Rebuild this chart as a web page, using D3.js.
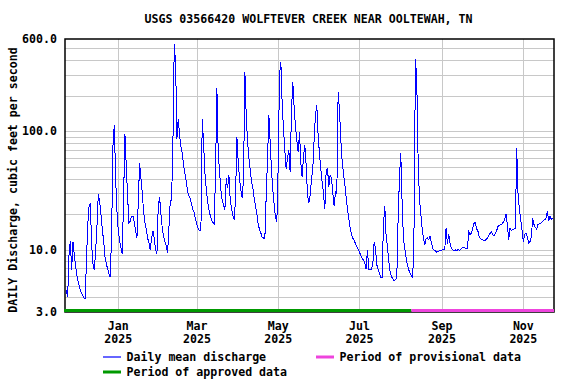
<!DOCTYPE html>
<html>
<head>
<meta charset="UTF-8">
<title>USGS 03566420 Wolftever Creek near Ooltewah, TN</title>
<script src="https://d3js.org/d3.v7.min.js"></script>
<style>
  body { margin: 0; background: #fff; }
  text { font-family: "DejaVu Sans Mono", monospace; font-weight: bold; font-size: 11.6px; fill: #000; }
</style>
</head>
<body>
<div id="chart"></div>
<script>
// daily mean discharge (cfs), one value per day
const nov2024 = [4.6, 4.0, 9.0, 12, 6.8, 11.7, 9.0, 7.2]; // from Nov 23
const dec2024 = [6.0, 5.3, 4.8, 4.4, 4.2, 4.0, 3.85, 7.2, 16, 23, 25, 11, 7.6, 6.8, 9.8, 16,
  29.5, 25.8, 20, 14.8, 12, 8.7, 7.7, 6.9, 6.3, 5.9, 14, 75, 114, 40, 21];
const jan2025 = [14.4, 12, 10.5, 9.2, 29, 94, 50, 28, 17, 17.5, 19.3, 19.3, 17, 14.5, 12.6, 25.8,
  54, 40, 30, 21, 17, 14.8, 12.6, 11.5, 10, 12.6, 14.5, 12.6, 10, 9.2, 24];
const feb2025 = [27.8, 20, 15.3, 13, 11.8, 10.8, 9.4, 15.3, 25.6, 26.5, 80, 540, 380, 87, 128, 93,
  74, 65, 52, 44, 38, 31, 28.5, 27, 24, 21.9, 20.5, 18];
const mar2025 = [16.4, 15, 14.5, 14.5, 126, 79, 45, 33, 25.6, 22, 19.5, 17.8, 17, 16.6, 46, 230,
  65, 46, 32, 26, 24, 21.9, 40, 33, 43, 26.5, 22.5, 19.5, 18, 27.4, 90];
const apr2025 = [55, 40, 32, 27.4, 40, 318, 137, 82, 60, 47, 38, 33, 27, 23.3, 20, 16.5, 14.8,
  13.9, 12.8, 12.6, 12.6, 28.5, 59, 137, 80, 46, 32, 24, 18.6, 17.4];
const may2025 = [52, 300, 385, 170, 105, 68, 48, 60, 69, 45, 156, 259, 156, 109, 84, 67, 98, 54,
  41, 61, 76, 52, 29, 24.7, 29, 39, 49, 87, 137, 165, 90];
const jun2025 = [65, 48, 37, 30, 22, 46, 49, 34, 43, 40, 30, 23.3, 31, 30, 215, 150, 85, 56, 44,
  36, 28, 22, 18.5, 15.5, 13.5, 12.6, 12, 11.3, 10.6, 10.2];
const jul2025 = [9.6, 9.0, 8.5, 8.2, 7.8, 6.9, 10, 6.9, 6.9, 6.9, 7.5, 11.7, 10.5, 7.5, 6.9, 6.3,
  5.9, 5.9, 16.3, 23.5, 13, 10.7, 8.0, 6.6, 6.0, 5.7, 5.5, 5.6, 5.8, 18, 40];
const aug2025 = [66, 25, 12.5, 10.4, 8.6, 7.4, 6.8, 6.4, 6.1, 5.8, 16.4, 410, 270, 60, 27.4, 20.5,
  15.5, 12.6, 11, 12.4, 12.6, 12.2, 13.2, 11.5, 10.3, 10, 9.8, 9.6, 9.7, 9.9, 9.8];
const sep2025 = [10, 10, 10, 15.3, 11.3, 13.6, 11.3, 10.3, 10, 9.9, 10, 9.9, 10.1, 9.9, 10.1, 10.4,
  10.4, 10.4, 10.3, 10.3, 14.2, 13.5, 13.8, 15.2, 16.8, 17, 15, 14.3, 12.8, 12.4];
const oct2025 = [12.2, 12.1, 12, 12.2, 12.6, 13.2, 13.8, 14.2, 13.5, 13.2, 13.8, 14.6, 15.8, 16.2,
  16.3, 16.5, 17.2, 18, 20, 16.4, 12.2, 15.3, 14.6, 14.8, 15, 15.3, 72, 30, 22, 18, 14.6];
const nov2025 = [11.8, 13.5, 13.9, 12.8, 11.5, 11.8, 12.8, 18.6, 16.4, 15.5, 15, 16.4, 16.6, 16.8,
  17.2, 17.6, 18, 18.5, 21.2, 17.6, 19.2, 18.2, 18.4];

const monthStarts = ["2024-11-23", "2024-12-01", "2025-01-01", "2025-02-01", "2025-03-01", "2025-04-01",
  "2025-05-01", "2025-06-01", "2025-07-01", "2025-08-01", "2025-09-01", "2025-10-01", "2025-11-01"];
const monthValues = [nov2024, dec2024, jan2025, feb2025, mar2025, apr2025, may2025, jun2025,
  jul2025, aug2025, sep2025, oct2025, nov2025];

const xDomain = ["2024-11-22", "2025-11-24"];
const approvedEnd = "2025-08-09";
const xTicks = ["2025-01-01", "2025-03-01", "2025-05-01", "2025-07-01", "2025-09-01", "2025-11-01"];
const yLabels = [3, 10, 100, 600];
const yGrid = [4, 5, 6, 7, 8, 9, 10, 20, 30, 40, 50, 60, 70, 80, 90, 100, 200, 300, 400, 500];

const title = "USGS 03566420 WOLFTEVER CREEK NEAR OOLTEWAH, TN";
const yTitle = "DAILY Discharge, cubic feet per second";

const parse = d3.utcParse("%Y-%m-%d");
const data = [];
monthValues.forEach((vals, m) => {
  const start = parse(monthStarts[m]);
  vals.forEach((v, i) => data.push({ date: d3.utcDay.offset(start, i), cfs: v }));
});

const W = 576, H = 384;
const plot = { left: 65, right: 554, top: 39, bottom: 312 };

const svg = d3.select("#chart").append("svg")
  .attr("width", W).attr("height", H);

const x = d3.scaleUtc()
  .domain(xDomain.map(parse))
  .range([plot.left, plot.right]);

const y = d3.scaleLog()
  .domain([3, 600])
  .range([plot.bottom, plot.top]);

const crisp = v => Math.round(v) + 0.5;

// grid
svg.append("g").selectAll("line.h")
  .data(yGrid).enter().append("line")
  .attr("x1", plot.left).attr("x2", plot.right)
  .attr("y1", d => crisp(y(d))).attr("y2", d => crisp(y(d)))
  .attr("stroke", "#c8c8c8").attr("stroke-width", 1);

svg.append("g").selectAll("line.v")
  .data(xTicks).enter().append("line")
  .attr("y1", plot.top).attr("y2", plot.bottom)
  .attr("x1", d => crisp(x(parse(d)))).attr("x2", d => crisp(x(parse(d))))
  .attr("stroke", "#c8c8c8").attr("stroke-width", 1);

// discharge line
const line = d3.line()
  .x(d => x(d.date))
  .y(d => y(d.cfs));

svg.append("path")
  .datum(data)
  .attr("fill", "none")
  .attr("stroke", "#0000ff")
  .attr("stroke-width", 1)
  .attr("shape-rendering", "crispEdges")
  .attr("d", line);

// frame
svg.append("rect")
  .attr("x", plot.left).attr("y", plot.top)
  .attr("width", plot.right - plot.left).attr("height", plot.bottom - plot.top)
  .attr("fill", "none").attr("stroke", "#000").attr("stroke-width", 1.5);

// approval periods along the bottom
svg.append("rect")
  .attr("x", plot.left - 1).attr("y", plot.bottom - 3)
  .attr("width", x(parse(approvedEnd)) - plot.left + 1).attr("height", 3)
  .attr("fill", "#009900");
svg.append("rect")
  .attr("x", x(parse(approvedEnd))).attr("y", plot.bottom - 3)
  .attr("width", plot.right - x(parse(approvedEnd))).attr("height", 3)
  .attr("fill", "#ee44dd");

// y labels
svg.append("g").selectAll("text")
  .data(yLabels).enter().append("text")
  .attr("x", 57).attr("y", d => y(d) + 4)
  .attr("text-anchor", "end")
  .text(d => d3.format(".1f")(d));

svg.append("text")
  .attr("transform", "translate(17,180) rotate(-90)")
  .attr("text-anchor", "middle")
  .text(yTitle);

// x labels
const fmtMon = d3.utcFormat("%b"), fmtYr = d3.utcFormat("%Y");
const xl = svg.append("g").selectAll("g")
  .data(xTicks).enter().append("g");
xl.append("text")
  .attr("x", d => x(parse(d))).attr("y", 330)
  .attr("text-anchor", "middle")
  .text(d => fmtMon(parse(d)));
xl.append("text")
  .attr("x", d => x(parse(d))).attr("y", 343)
  .attr("text-anchor", "middle")
  .text(d => fmtYr(parse(d)));

// title
svg.append("text")
  .attr("x", 308.5).attr("y", 23)
  .attr("text-anchor", "middle")
  .text(title);

// legend
const legend = [
  { label: "Daily mean discharge", color: "#0000ff", width: 1.2, x: 103, y: 357 },
  { label: "Period of provisional data", color: "#ee44dd", width: 3, x: 316, y: 357 },
  { label: "Period of approved data", color: "#009900", width: 3, x: 103, y: 372 }
];
const lg = svg.append("g").selectAll("g")
  .data(legend).enter().append("g");
lg.append("line")
  .attr("x1", d => d.x).attr("x2", d => d.x + 18)
  .attr("y1", d => d.y).attr("y2", d => d.y)
  .attr("stroke", d => d.color).attr("stroke-width", d => d.width);
lg.append("text")
  .attr("x", d => d.x + 23.5).attr("y", d => d.y + 4)
  .text(d => d.label);
</script>
</body>
</html>
